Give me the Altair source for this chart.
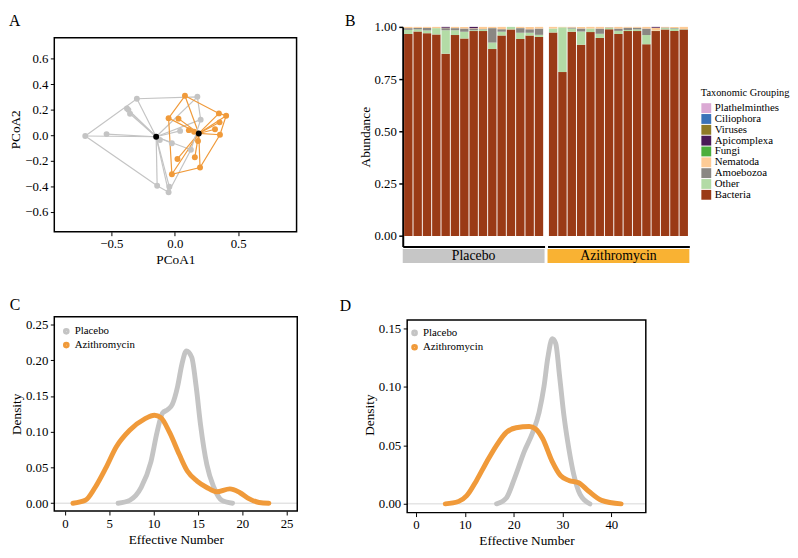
import altair as alt
import pandas as pd

FONT = "Liberation Serif"
GRAY = "#C4C4C4"
ORANGE = "#F09A3A"
GROUPS = ["Placebo", "Azithromycin"]

# ---------------- Panel A : PCoA ----------------
pla_x = [-0.706, -0.538, -0.299, -0.366, -0.353, 0.178, 0.204, 0.042, -0.023, 0.127, -0.118, -0.139, -0.043, -0.049, -0.377]
pla_y = [-0.005, 0.010, 0.287, 0.200, 0.169, 0.302, 0.123, 0.035, -0.062, -0.113, -0.036, -0.395, -0.403, -0.446, 0.210]
azi_x = [0.080, -0.049, 0.029, 0.348, 0.405, 0.353, 0.317, 0.356, 0.111, 0.152, 0.183, 0.021, 0.158, 0.199, -0.023]
azi_y = [0.310, 0.135, 0.131, 0.172, 0.154, 0.102, 0.048, 0.005, 0.041, 0.028, -0.044, -0.185, -0.172, -0.252, -0.305]
cent_x = [-0.147, 0.189]
cent_y = [-0.011, 0.015]
pla_hull = [0, 2, 5, 6, 9, 13, 11, 0]
azi_hull = [0, 3, 4, 7, 13, 14, 1, 0]

# ---------------- Panel B : taxonomic composition ----------------
taxa = ["Plathelminthes", "Ciliophora", "Viruses", "Apicomplexa", "Fungi",
        "Nematoda", "Amoebozoa", "Other", "Bacteria"]
taxa_colors = ["#DBA9D4", "#3A72B8", "#8F7A26", "#4A1A57", "#4CAE3C",
               "#FDCB96", "#8A8783", "#B3DBA6", "#9A3A16"]
pla_bacteria = [0.966, 0.978, 0.970, 0.964, 0.872, 0.961, 0.945, 0.980, 0.980, 0.894, 0.959, 0.988, 0.942, 0.959, 0.952]
pla_other = [0.020, 0.010, 0.013, 0.030, 0.112, 0.023, 0.032, 0.004, 0.008, 0.031, 0.018, 0.012, 0.030, 0.013, 0.010]
pla_amoebozoa = [0.008, 0.007, 0.012, 0.000, 0.010, 0.010, 0.015, 0.008, 0.002, 0.069, 0.012, 0.000, 0.022, 0.017, 0.030]
pla_nematoda = [0.006, 0.005, 0.005, 0.006, 0.002, 0.006, 0.008, 0.002, 0.010, 0.006, 0.011, 0.000, 0.006, 0.011, 0.008]
pla_apicomplexa = [0.0, 0.0, 0.0, 0.0, 0.004, 0.0, 0.0, 0.006, 0.0, 0.0, 0.0, 0.0, 0.0, 0.0, 0.0]
azi_bacteria = [0.973, 0.784, 0.977, 0.914, 0.975, 0.947, 0.989, 0.966, 0.980, 0.980, 0.917, 0.980, 0.988, 0.980, 0.988]
azi_other = [0.019, 0.214, 0.015, 0.064, 0.017, 0.020, 0.006, 0.015, 0.005, 0.008, 0.044, 0.002, 0.006, 0.012, 0.002]
azi_amoebozoa = [0.000, 0.000, 0.005, 0.014, 0.000, 0.025, 0.002, 0.011, 0.011, 0.008, 0.031, 0.000, 0.003, 0.003, 0.000]
azi_nematoda = [0.008, 0.002, 0.003, 0.008, 0.008, 0.008, 0.003, 0.008, 0.004, 0.004, 0.008, 0.014, 0.003, 0.005, 0.010]
azi_apicomplexa = [0.0, 0.0, 0.0, 0.0, 0.0, 0.0, 0.0, 0.0, 0.0, 0.0, 0.0, 0.004, 0.0, 0.0, 0.0]

# ---------------- Panel C / D : density curves ----------------
c_pla_x = [6.0, 7.3, 8.6, 9.7, 10.4, 11.0, 11.6, 12.1, 12.7, 13.2, 13.7, 14.3, 14.8, 15.3, 16.0, 16.8, 17.7, 18.9]
c_pla_y = [0.000, 0.004, 0.022, 0.058, 0.100, 0.126, 0.131, 0.138, 0.163, 0.195, 0.213, 0.204, 0.163, 0.109, 0.054, 0.022, 0.004, 0.000]
c_azi_x = [0.9, 2.3, 3.4, 4.6, 5.8, 7.3, 9.0, 10.1, 10.8, 11.8, 12.9, 13.8, 14.9, 16.0, 17.1, 18.6, 19.7, 20.8, 21.9, 23.0]
c_azi_y = [0.000, 0.004, 0.022, 0.049, 0.079, 0.102, 0.118, 0.123, 0.120, 0.099, 0.068, 0.045, 0.031, 0.022, 0.016, 0.020, 0.015, 0.006, 0.001, 0.000]
d_pla_x = [16.5, 18.5, 20.2, 22.2, 23.9, 25.2, 26.2, 27.0, 27.9, 28.6, 29.4, 30.3, 31.3, 32.3, 33.6, 35.6]
d_pla_y = [0.000, 0.005, 0.022, 0.045, 0.061, 0.078, 0.100, 0.125, 0.141, 0.137, 0.109, 0.075, 0.047, 0.025, 0.008, 0.000]
d_azi_x = [6.0, 8.7, 10.4, 12.4, 14.5, 16.5, 18.5, 20.5, 23.2, 24.5, 25.9, 27.9, 29.6, 31.3, 33.3, 35.3, 38.0, 42.0]
d_azi_y = [0.000, 0.002, 0.007, 0.020, 0.036, 0.050, 0.061, 0.065, 0.066, 0.064, 0.056, 0.036, 0.024, 0.020, 0.018, 0.011, 0.003, 0.000]


def letter(t, offset, dx=0):
    return alt.TitleParams(t, anchor="start", frame="bounds", font=FONT, fontSize=16,
                           fontWeight="normal", color="black", offset=offset, dx=dx)


def padded_top(lo, hi, h, pad):
    # extend the scale above the framed panel by `pad` pixels
    return hi + pad * (hi - lo) / h


def frame(xlo, xhi, ylo, yhi, xe, ye):
    fdf = pd.DataFrame({"x": [xlo], "x2": [xhi], "y": [ylo], "y2": [yhi]})
    return alt.Chart(fdf).mark_rect(fillOpacity=0, stroke="black", strokeWidth=1.5).encode(
        x=xe, x2="x2:Q", y=ye, y2="y2:Q")


def axis(values, fmt, title, **kw):
    return alt.Axis(values=values, tickCount=len(values) + 2, format=fmt, title=title,
                    domain=False, labelOverlap=False, **kw)


# ---- build panel A ----
A_W, A_H, A_PAD = 246, 197, 11
A_XD = [-0.95, 0.96]
A_YD = [-0.755, 0.765]
pts = pd.concat([
    pd.DataFrame({"x": pla_x, "y": pla_y, "group": "Placebo", "cx": cent_x[0], "cy": cent_y[0]}),
    pd.DataFrame({"x": azi_x, "y": azi_y, "group": "Azithromycin", "cx": cent_x[1], "cy": cent_y[1]}),
], ignore_index=True)
hull = pd.concat([
    pd.DataFrame({"x": [pla_x[i] for i in pla_hull], "y": [pla_y[i] for i in pla_hull],
                  "group": "Placebo", "ord": list(range(len(pla_hull)))}),
    pd.DataFrame({"x": [azi_x[i] for i in azi_hull], "y": [azi_y[i] for i in azi_hull],
                  "group": "Azithromycin", "ord": list(range(len(azi_hull)))}),
], ignore_index=True)
cents = pd.DataFrame({"x": cent_x, "y": cent_y, "group": GROUPS})

xA = alt.X("x:Q", scale=alt.Scale(domain=A_XD, nice=False, zero=False),
           axis=axis([-0.5, 0, 0.5], ".1f", "PCoA1"))
yA = alt.Y("y:Q", scale=alt.Scale(domain=[A_YD[0], padded_top(A_YD[0], A_YD[1], A_H, A_PAD)],
                                  nice=False, zero=False),
           axis=axis([-0.6, -0.4, -0.2, 0, 0.2, 0.4, 0.6], ".1f", "PCoA2"))
scA = alt.Scale(domain=GROUPS, range=[GRAY, ORANGE])

a_hull = alt.Chart(hull).mark_line(strokeWidth=1.2).encode(
    x=xA, y=yA, color=alt.Color("group:N", scale=scA, legend=None),
    detail="group:N", order="ord:Q")
a_spider = alt.Chart(pts).mark_rule(strokeWidth=1.2).encode(
    x=xA, y=yA, x2="cx:Q", y2="cy:Q", color=alt.Color("group:N", scale=scA, legend=None))
a_pts = alt.Chart(pts).mark_circle(size=36, opacity=1).encode(
    x=xA, y=yA,
    color=alt.Color("group:N", scale=scA, legend=alt.Legend(
        title=None, orient="none", legendX=6.5, legendY=16.5, symbolType="circle", symbolSize=28,
        labelFont=FONT, labelFontSize=11, labelColor="black", padding=0, rowPadding=1.3,
        labelOffset=3, symbolStrokeWidth=0)))
a_cent = alt.Chart(cents).mark_circle(size=36, opacity=1, color="black").encode(x=xA, y=yA)
A = alt.layer(frame(A_XD[0], A_XD[1], A_YD[0], A_YD[1], xA, yA), a_spider, a_hull, a_pts, a_cent).properties(
    width=A_W, height=A_H + A_PAD, title=letter("A", -1.9))


# ---- build panel B ----
def comp_df(prefix, bac, oth, amo, nem, api):
    rows = []
    cols = {"Bacteria": bac, "Other": oth, "Amoebozoa": amo, "Nematoda": nem, "Apicomplexa": api}
    stack_idx = {t: i for i, t in enumerate(reversed(taxa))}
    for i in range(len(bac)):
        for t, vals in cols.items():
            rows.append({"sample": f"{prefix}{i:02d}", "taxon": t, "value": vals[i], "stack": stack_idx[t]})
    return pd.DataFrame(rows)


dfP = comp_df("P", pla_bacteria, pla_other, pla_amoebozoa, pla_nematoda, pla_apicomplexa)
dfZ = comp_df("Z", azi_bacteria, azi_other, azi_amoebozoa, azi_nematoda, azi_apicomplexa)

BW, BH = 144, 223
STRIP_TOP, STRIP_H = 2.5, 14.3


def comp_panel(df, group, fill, show_axis, show_legend):
    if show_axis:
        yax = alt.Axis(values=[0, 0.25, 0.5, 0.75, 1.0], tickCount=7, format=".2f", title="Abundance",
                       domainWidth=2, tickWidth=1.5, domainColor="black", labelOverlap=False)
    else:
        yax = None
    if show_legend:
        leg = alt.Legend(title="Taxonomic Grouping", orient="none", legendX=155.7, legendY=62.5,
                         titleFont=FONT, titleFontSize=10.5, titleFontWeight="normal", titleColor="black",
                         labelFont=FONT, labelFontSize=11, labelColor="black",
                         symbolType="square", symbolSize=100, symbolStrokeWidth=0,
                         rowPadding=-1.8, padding=0, labelOffset=3, titlePadding=4)
    else:
        leg = None
    bars = alt.Chart(df).mark_bar().encode(
        x=alt.X("sample:N", sort=None, scale=alt.Scale(paddingInner=0.1, paddingOuter=0.15),
                axis=alt.Axis(labels=False, ticks=False, title=None, domainWidth=2, domainColor="black")),
        y=alt.Y("value:Q", stack="zero", scale=alt.Scale(domain=[-0.05, 1.0], nice=False, zero=False),
                axis=yax),
        color=alt.Color("taxon:N", scale=alt.Scale(domain=taxa, range=taxa_colors), legend=leg),
        order=alt.Order("stack:Q", sort="ascending"),
    )
    sdf = pd.DataFrame({"group": [group]})
    rect = alt.Chart(sdf).mark_rect(fill=fill).encode(
        x=alt.value(0), x2=alt.value(BW),
        y=alt.value(BH + STRIP_TOP), y2=alt.value(BH + STRIP_TOP + STRIP_H))
    txt = alt.Chart(sdf).mark_text(font=FONT, fontSize=14, color="black", baseline="middle").encode(
        x=alt.value(BW / 2), y=alt.value(BH + STRIP_TOP + STRIP_H / 2 + 0.5), text="group:N")
    return alt.layer(bars, rect, txt).properties(width=BW, height=BH)


B1 = comp_panel(dfP, "Placebo", "#C6C6C6", True, False)
B2 = comp_panel(dfZ, "Azithromycin", "#F9B233", False, True)
B = alt.hconcat(B1, B2, spacing=3, title=letter("B", -8.4, -13.5)).resolve_scale(
    color="independent", y="independent").resolve_legend(color="independent")


# ---- build panels C and D ----
def density_panel(px, py, ax, ay, xdom, xvals, ydom, yvals, w, h, pad, ttl, legx, legy, rowpad):
    dP = pd.DataFrame({"x": px, "y": py, "group": "Placebo", "ord": list(range(len(px)))})
    dZ = pd.DataFrame({"x": ax, "y": ay, "group": "Azithromycin", "ord": list(range(len(ax)))})
    x = alt.X("x:Q", scale=alt.Scale(domain=xdom, nice=False, zero=False),
              axis=axis(xvals, "d", "Effective Number"))
    ysc = alt.Scale(domain=[ydom[0], padded_top(ydom[0], ydom[1], h, pad)], nice=False, zero=False)
    y = alt.Y("y:Q", scale=ysc, axis=axis(yvals, ".2f", "Density"))
    leg = alt.Legend(title=None, orient="none", legendX=legx, legendY=legy, symbolType="circle",
                     symbolSize=14, symbolStrokeWidth=3, labelFont=FONT, labelFontSize=11,
                     labelColor="black", padding=0, rowPadding=rowpad, labelOffset=3)
    col = alt.Color("group:N", scale=alt.Scale(domain=GROUPS, range=[GRAY, ORANGE]), legend=leg)
    zero = alt.Chart(pd.DataFrame({"z": [0.0]})).mark_rule(color="#D6D6D6", strokeWidth=1).encode(
        y=alt.Y("z:Q", scale=ysc, axis=axis(yvals, ".2f", "Density")))
    lp = alt.Chart(dP).mark_line(strokeWidth=5, strokeCap="round", strokeJoin="round",
                                 interpolate="monotone").encode(x=x, y=y, color=col, order="ord:Q")
    lz = alt.Chart(dZ).mark_line(strokeWidth=5, strokeCap="round", strokeJoin="round",
                                 interpolate="monotone").encode(x=x, y=y, color=col, order="ord:Q")
    return alt.layer(zero, frame(xdom[0], xdom[1], ydom[0], ydom[1], x, y), lp, lz).properties(
        width=w, height=h + pad, title=ttl)


C = density_panel(c_pla_x, c_pla_y, c_azi_x, c_azi_y, [-1.2, 26.2], [0, 5, 10, 15, 20, 25],
                  [-0.011, 0.261], [0, 0.05, 0.10, 0.15, 0.20, 0.25], 246.7, 197.4, 0,
                  letter("C", 3.1), 6.7, 9.4, -4)
D = density_panel(d_pla_x, d_pla_y, d_azi_x, d_azi_y, [-1.8, 47.05], [0, 10, 20, 30, 40],
                  [-0.0075, 0.157], [0, 0.05, 0.10, 0.15], 242.3, 195.6, 3.4,
                  letter("D", 3.1, -23.25), 2, 11, -2.4)

row1 = alt.hconcat(A, B, spacing=47.8).resolve_scale(color="independent").resolve_legend(color="independent")
row2 = alt.hconcat(C, D, spacing=41.3).resolve_scale(color="independent").resolve_legend(color="independent")

chart = alt.vconcat(row1, row2, spacing=31.2).resolve_scale(color="independent").resolve_legend(
    color="independent").properties(padding=0, background="white").configure(
    font=FONT).configure_view(stroke=None).configure_axis(
    labelFont=FONT, titleFont=FONT, labelFontSize=13, titleFontSize=13.5, labelColor="black",
    titleColor="black", tickColor="black", titleFontWeight="normal", grid=False, tickSize=4,
    labelPadding=2.5, titlePadding=2, labelOverlap=False).configure_title(font=FONT).configure_legend(
    labelFont=FONT, titleFont=FONT)

chart.save("out.html", embed_options={"renderer": "svg", "actions": False})
